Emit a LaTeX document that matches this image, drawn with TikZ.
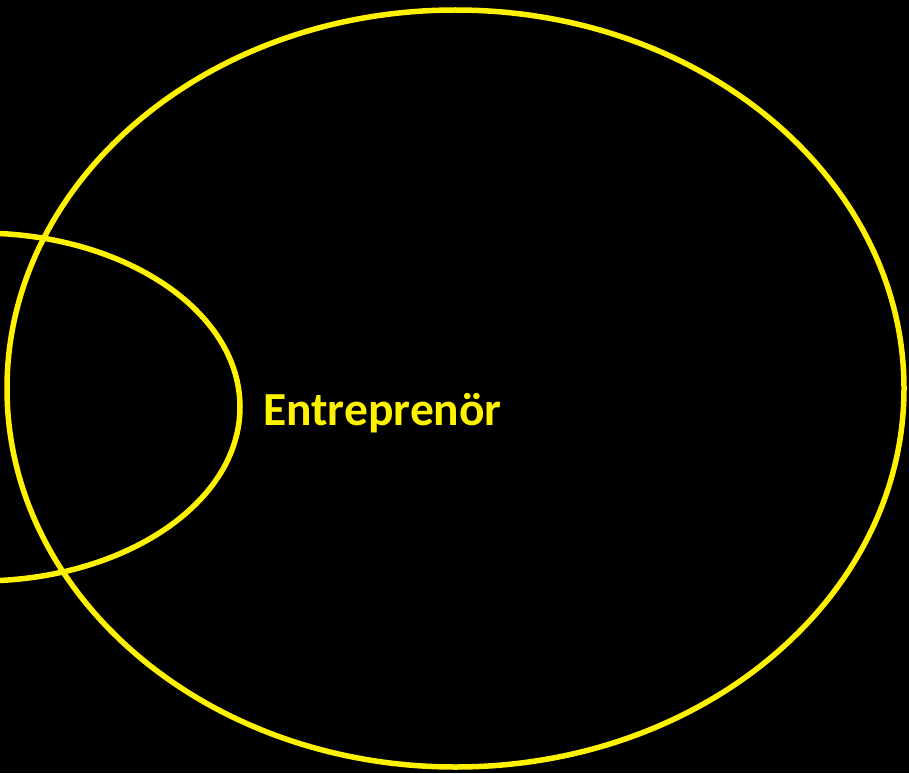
\documentclass[tikz,border=0pt]{standalone}
\usepackage{fontspec}
\setmainfont{Carlito}
\usetikzlibrary{shapes.geometric}

\begin{document}
\begin{tikzpicture}[x=1pt, y=-1pt]
\tikzstyle{ring} = [ellipse, draw=yellow, line width=5.5pt, inner sep=0pt, outer sep=0pt]
\tikzstyle{tag} = [text=yellow, font=\fontsize{47.5}{57}\selectfont\bfseries, inner sep=0pt]

\fill[black] (0,0) rectangle (909,773);
\useasboundingbox (0,0) rectangle (909,773);
\clip (0,0) rectangle (909,773);

\node[ring, minimum width=897pt, minimum height=757pt] (market) at (455.5,388.5) {};
\node[ring, minimum width=520pt, minimum height=348pt] (founder) at (-20,407) {};
\node[tag, anchor=base] (entre) at (382.5,425) {Entreprenör};
\end{tikzpicture}
\end{document}
